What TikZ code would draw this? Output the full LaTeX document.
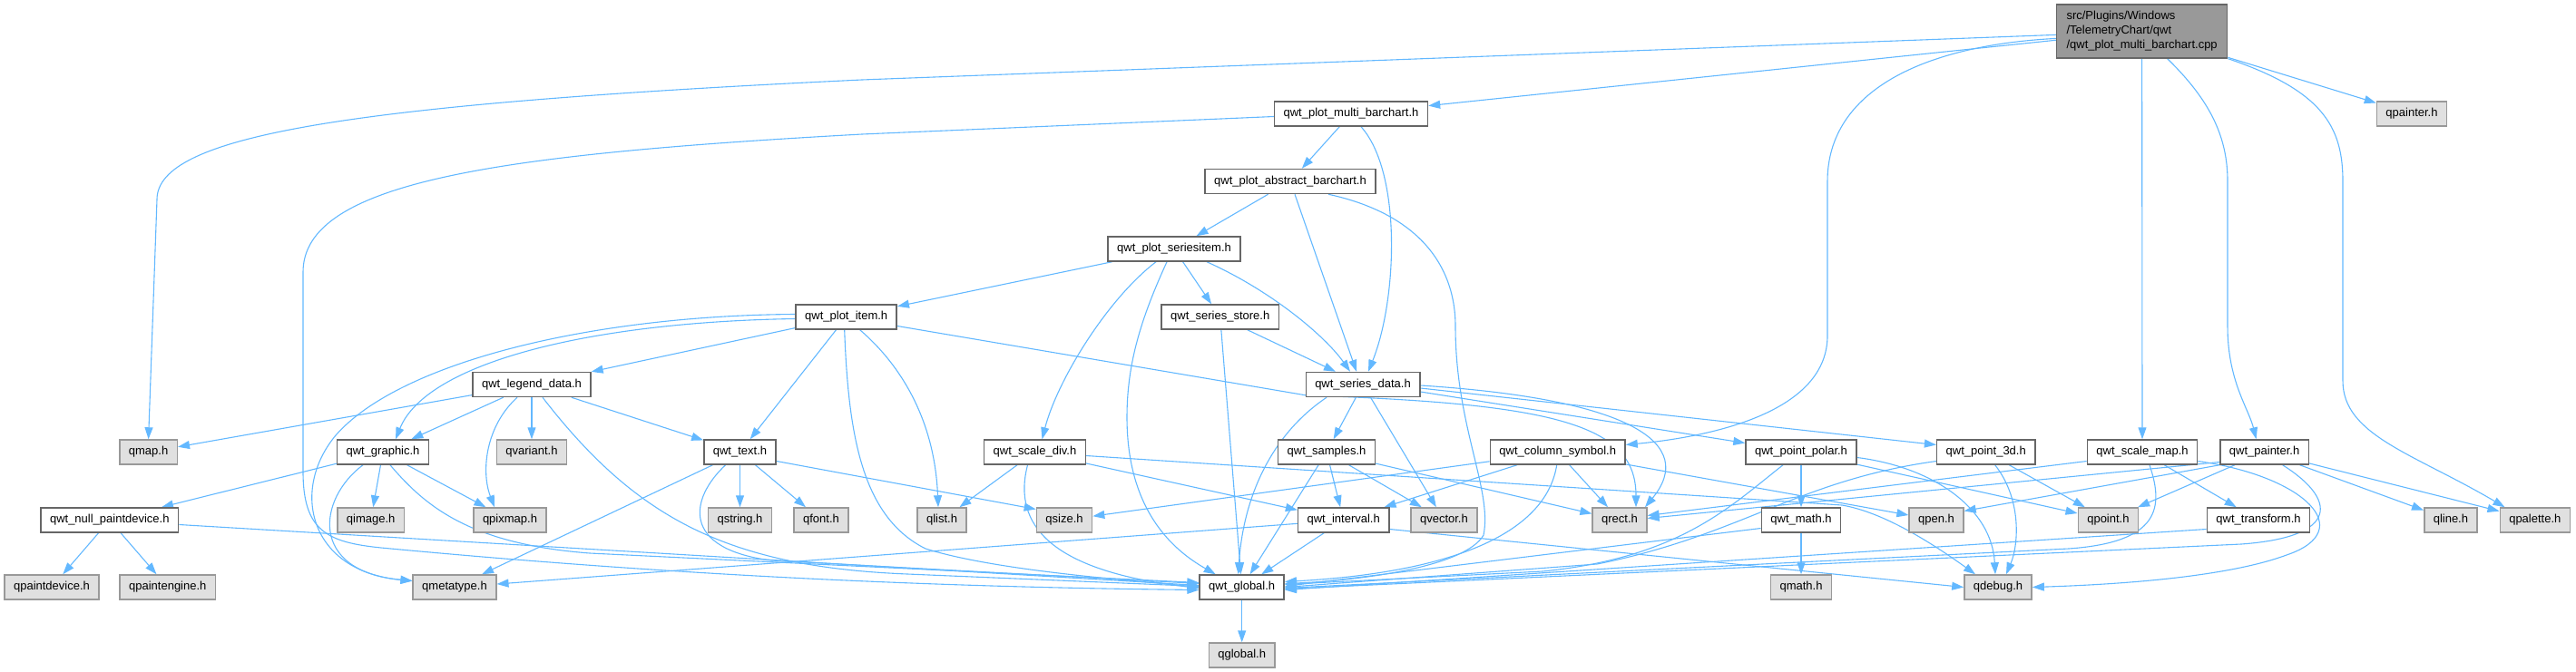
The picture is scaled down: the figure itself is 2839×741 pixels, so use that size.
\documentclass[tikz,border=0pt]{standalone}
\usepackage{fontspec}
\setmainfont{Liberation Sans}
\usepackage{xcolor}
\usetikzlibrary{arrows.meta, backgrounds}
\definecolor{edgeblue}{HTML}{63B8FF}
\definecolor{boxline}{HTML}{666666}
\definecolor{sysline}{HTML}{999999}
\definecolor{sysfill}{HTML}{E0E0E0}
\definecolor{rootfill}{HTML}{999999}

\begin{document}
\begin{tikzpicture}[x=1pt, y=-1pt, font=\fontsize{13}{16}\selectfont,
    hb/.style={draw=boxline, fill=white, line width=1.5pt, inner xsep=10pt, inner ysep=0pt, minimum height=27pt},
    sb/.style={hb, draw=sysline, fill=sysfill},
    rb/.style={draw=boxline, fill=rootfill, line width=1.5pt, align=left, minimum width=188pt, minimum height=59pt, inner xsep=10pt},
    arr/.style={color=edgeblue, line width=1.1pt, -{Triangle[length=13pt,width=9pt]}}]
    \useasboundingbox (0,0) rectangle (2839,741);
    % rows 0-2
    \node[rb] (root) at (2360.6,34.4) {src/Plugins/Windows\\/TelemetryChart/qwt\\/qwt\_plot\_multi\_barchart.cpp};
    \node[hb] (multi) at (1489,125.5) {qwt\_plot\_multi\_barchart.h};
    \node[sb] (qpainter) at (2658,125.5) {qpainter.h};
    \node[hb] (abstr) at (1422,200) {qwt\_plot\_abstract\_barchart.h};
    % rows 3-5
    \node[hb] (sitem) at (1294,274.5) {qwt\_plot\_seriesitem.h};
    \node[hb] (pitem) at (932.7,349.5) {qwt\_plot\_item.h};
    \node[hb] (sstore) at (1344.7,349.5) {qwt\_series\_store.h};
    \node[hb] (legend) at (586,424) {qwt\_legend\_data.h};
    \node[hb] (sdata) at (1502,424) {qwt\_series\_data.h};
    % row 6
    \node[sb] (qmap) at (163.6,498.5) {qmap.h};
    \node[hb] (graphic) at (422,498.5) {qwt\_graphic.h};
    \node[sb] (qvariant) at (586,498.5) {qvariant.h};
    \node[hb] (text) at (815.5,498.5) {qwt\_text.h};
    \node[hb] (sdiv) at (1140.5,498.5) {qwt\_scale\_div.h};
    \node[hb] (samples) at (1462,498.5) {qwt\_samples.h};
    \node[hb] (colsym) at (1716.7,498.5) {qwt\_column\_symbol.h};
    \node[hb] (ppolar) at (1985,498.5) {qwt\_point\_polar.h};
    \node[hb] (p3d) at (2188.7,498.5) {qwt\_point\_3d.h};
    \node[hb] (smap) at (2361,498.5) {qwt\_scale\_map.h};
    \node[hb] (painter) at (2495.6,498.5) {qwt\_painter.h};
    % row 7
    \node[hb] (nullpd) at (120.8,573.5) {qwt\_null\_paintdevice.h};
    \node[sb] (qimage) at (408.7,573.5) {qimage.h};
    \node[sb] (qpixmap) at (562,573.5) {qpixmap.h};
    \node[sb] (qstring) at (815.5,573.5) {qstring.h};
    \node[sb] (qfont) at (905,573.5) {qfont.h};
    \node[sb] (qlist) at (1038,573.5) {qlist.h};
    \node[sb] (qsize) at (1173,573.5) {qsize.h};
    \node[hb] (intv) at (1480.7,573.5) {qwt\_interval.h};
    \node[sb] (qvector) at (1591.4,573.5) {qvector.h};
    \node[sb] (qrect) at (1785,573.5) {qrect.h};
    \node[hb] (qwtmath) at (1985,573.5) {qwt\_math.h};
    \node[sb] (qpen) at (2134,573.5) {qpen.h};
    \node[sb] (qpoint) at (2323.4,573.5) {qpoint.h};
    \node[hb] (transf) at (2489,573.5) {qwt\_transform.h};
    \node[sb] (qline) at (2700.9,573.5) {qline.h};
    \node[sb] (qpalette) at (2793.8,573.5) {qpalette.h};
    % rows 8-9
    \node[sb] (qpaintdev) at (57,647.5) {qpaintdevice.h};
    \node[sb] (qpainteng) at (184.8,647.5) {qpaintengine.h};
    \node[sb] (qmeta) at (501,647.5) {qmetatype.h};
    \node[hb] (qwtglb) at (1368.7,647.5) {qwt\_global.h};
    \node[sb] (qmath) at (1985,647.5) {qmath.h};
    \node[sb] (qdebug) at (2202,647.5) {qdebug.h};
    \node[sb] (qglb) at (1368.7,722.5) {qglobal.h};

    \begin{scope}[on background layer]
    % straight includes
    \draw[arr] (root)--(multi); \draw[arr] (root)--(qpainter); \draw[arr] (root)--(smap);
    \draw[arr] (multi)--(abstr); \draw[arr] (abstr)--(sitem);
    \draw[arr] (sitem)--(pitem); \draw[arr] (sitem)--(sstore);
    \draw[arr] (sstore)--(sdata); \draw[arr] (sstore)--(qwtglb);
    \draw[arr] (pitem)--(legend); \draw[arr] (pitem)--(text);
    \draw[arr] (legend)--(qmap); \draw[arr] (legend)--(graphic); \draw[arr] (legend)--(qvariant); \draw[arr] (legend)--(text);
    \draw[arr] (graphic)--(nullpd); \draw[arr] (graphic)--(qimage); \draw[arr] (graphic)--(qpixmap);
    \draw[arr] (text)--(qmeta); \draw[arr] (text)--(qstring); \draw[arr] (text)--(qfont);
    \draw[arr] (sdiv)--(qlist); \draw[arr] (sdiv)--(intv);
    \draw[arr] (samples)--(qwtglb); \draw[arr] (samples)--(intv); \draw[arr] (samples)--(qvector); \draw[arr] (samples)--(qrect);
    \draw[arr] (sdata)--(samples); \draw[arr] (sdata)--(qvector);
    \draw[arr] (colsym)--(qsize); \draw[arr] (colsym)--(intv); \draw[arr] (colsym)--(qrect); \draw[arr] (colsym)--(qpen);
    \draw[arr] (intv)--(qwtglb); \draw[arr] (intv)--(qmeta);
    \draw[arr] (ppolar)--(qwtmath); \draw[arr] (ppolar)--(qpoint); \draw[arr] (p3d)--(qpoint);
    \draw[arr] (smap)--(transf);
    \draw[arr] (painter)--(qpoint); \draw[arr] (painter)--(qline); \draw[arr] (painter)--(qpalette);
    \draw[arr] (nullpd)--(qpaintdev); \draw[arr] (nullpd)--(qpainteng);
    \draw[arr] (qwtmath)--(qmath); \draw[arr] (qwtglb)--(qglb);
    % shifted ends
    \draw[arr] ([xshift=5pt]abstr.south)--([xshift=-7pt]sdata.north);
    \draw[arr] ([yshift=-10pt]text.east)--([yshift=12pt]qsize.west);
    \draw[arr] ([yshift=-8pt]sdata.east)--([yshift=10pt]ppolar.west);
    \draw[arr] ([yshift=-4pt]sdata.east)--([yshift=8pt]p3d.west);
    \draw[arr] ([yshift=-10pt]intv.east)--(qdebug.west);
    \draw[arr] ([yshift=-10pt]smap.west)--([yshift=5pt]qrect.east);
    \draw[arr] ([yshift=-11pt]painter.west)--([yshift=2pt]qrect.east);
    \draw[arr] (painter.south west)--([yshift=10pt]qpen.east);
    \draw[arr] ([yshift=-10pt]transf.west)--([yshift=-3pt]qwtglb.east);
    \draw[arr] ([yshift=-9pt]qwtmath.west)--([yshift=1pt]qwtglb.east);
    \draw[arr] ([yshift=-5pt]nullpd.east)--([yshift=2pt]qwtglb.west);
    % curved includes
    \draw[arr] ([yshift=-4pt]root.west) -- (950,88) .. controls (380,115) and (173,150) .. (173,220) -- (qmap.north);
    \draw[arr] ([yshift=-8pt]root.west) .. controls (2120,50) and (2014,100) .. (2014,200) -- (2014,370) .. controls (2014,450) and (1900,480) .. ([yshift=8pt]colsym.east);
    \draw[arr] ([xshift=28pt]root.south) .. controls (2435,110) and (2455,150) .. (2455,200) -- (2455,360) .. controls (2455,420) and (2478,450) .. ([xshift=-9pt]painter.north);
    \draw[arr] (root.south east) .. controls (2560,100) and (2582,140) .. (2582,200) -- (2582,420) .. controls (2582,480) and (2660,500) .. ([xshift=6pt]qpalette.north west);
    \draw[arr] ([xshift=11pt]multi.south) .. controls (1545,190) and (1540,330) .. ([xshift=6pt]sdata.north);
    \draw[arr] ([yshift=-3pt]multi.west) -- (950,148) .. controls (550,170) and (334,200) .. (334,300) -- (334,520) .. controls (334,585) and (360,598) .. (420,604) .. controls (800,640) and (1100,648) .. ([yshift=-3pt]qwtglb.west);
    \draw[arr] ([xshift=42pt]abstr.south) .. controls (1560,235) and (1604,290) .. (1604,360) .. controls (1604,470) and (1645,540) .. (1635,590) .. controls (1615,625) and (1500,640) .. ([yshift=4pt]qwtglb.east);
    \draw[arr] ([xshift=-20pt]sitem.south) .. controls (1220,330) and (1165,420) .. ([xshift=8pt]sdiv.north);
    \draw[arr] ([xshift=-8pt]sitem.south) .. controls (1258,350) and (1242,400) .. (1242,460) .. controls (1242,560) and (1290,605) .. ([xshift=-29pt]qwtglb.north);
    \draw[arr] ([xshift=36pt]sitem.south) .. controls (1400,320) and (1460,370) .. ([xshift=-14pt]sdata.north);
    \draw[arr] ([yshift=-2pt]pitem.west) .. controls (650,355) and (470,400) .. ([xshift=14pt]graphic.north);
    \draw[arr] ([yshift=3pt]pitem.west) .. controls (650,348) and (440,400) .. (370,480) .. controls (320,540) and (340,630) .. ([yshift=7pt]qmeta.west);
    \draw[arr] ([xshift=15pt]pitem.south) .. controls (990,400) and (1030,460) .. ([xshift=-4pt]qlist.north);
    \draw[arr] ([xshift=-2pt]pitem.south) .. controls (935,480) and (950,570) .. (1020,605) .. controls (1100,630) and (1250,640) .. (qwtglb.west);
    \draw[arr] ([yshift=-10pt]pitem.east) -- (1440,436) .. controls (1720,445) and (1803,470) .. ([xshift=18pt]qrect.north);
    \draw[arr] ([xshift=-16pt]legend.south) .. controls (535,470) and (530,520) .. ([xshift=-17pt]qpixmap.north);
    \draw[arr] ([xshift=12pt]legend.south) .. controls (700,570) and (800,625) .. (1000,633) -- ([yshift=1pt]qwtglb.west);
    \draw[arr] ([xshift=-22pt]graphic.south) .. controls (350,550) and (340,630) .. ([yshift=7pt]qmeta.west);
    \draw[arr] ([xshift=8pt]graphic.south) .. controls (470,560) and (520,600) .. (650,610) -- ([yshift=5pt]qwtglb.west);
    \draw[arr] ([xshift=-16pt]text.south) .. controls (760,550) and (750,605) .. (850,618) -- ([yshift=4pt]qwtglb.west);
    \draw[arr] ([xshift=-8pt]sdiv.south) .. controls (1115,580) and (1160,630) .. ([yshift=-1pt]qwtglb.west);
    \draw[arr] ([yshift=-4pt]sdiv.east) -- (2030,557) .. controls (2065,563) and (2110,585) .. ([xshift=-25pt]qdebug.north);
    \draw[arr] ([xshift=-40pt]sdata.south) .. controls (1400,480) and (1370,550) .. ([xshift=-4pt]qwtglb.north);
    \draw[arr] ([yshift=-1pt]sdata.east) .. controls (1800,440) and (1870,490) .. ([xshift=28pt]qrect.north);
    \draw[arr] ([xshift=-1pt]colsym.south) .. controls (1705,580) and (1620,630) .. ([yshift=6pt]qwtglb.east);
    \draw[arr] ([xshift=-20pt]ppolar.south) .. controls (1905,560) and (1850,615) .. (1700,630) -- ([yshift=3pt]qwtglb.east);
    \draw[arr] ([yshift=-6pt]ppolar.east) .. controls (2130,515) and (2195,560) .. ([xshift=-3pt]qdebug.north);
    \draw[arr] ([yshift=-10pt]p3d.west) .. controls (1980,530) and (1920,590) .. (1760,622) -- (qwtglb.east);
    \draw[arr] ([xshift=10pt]p3d.south) .. controls (2228,550) and (2225,600) .. ([xshift=9pt]qdebug.north);
    \draw[arr] ([xshift=8pt]smap.south) .. controls (2385,560) and (2380,598) .. (2280,605) -- ([yshift=-1pt]qwtglb.east);
    \draw[arr] ([yshift=-10pt]smap.east) .. controls (2540,525) and (2600,585) .. (2520,612) .. controls (2450,638) and (2320,645) .. (qdebug.east);
    \draw[arr] ([xshift=20pt]painter.south) .. controls (2575,550) and (2580,592) .. (2470,600) -- ([yshift=-2pt]qwtglb.east);
    \end{scope}
\end{tikzpicture}
\end{document}
